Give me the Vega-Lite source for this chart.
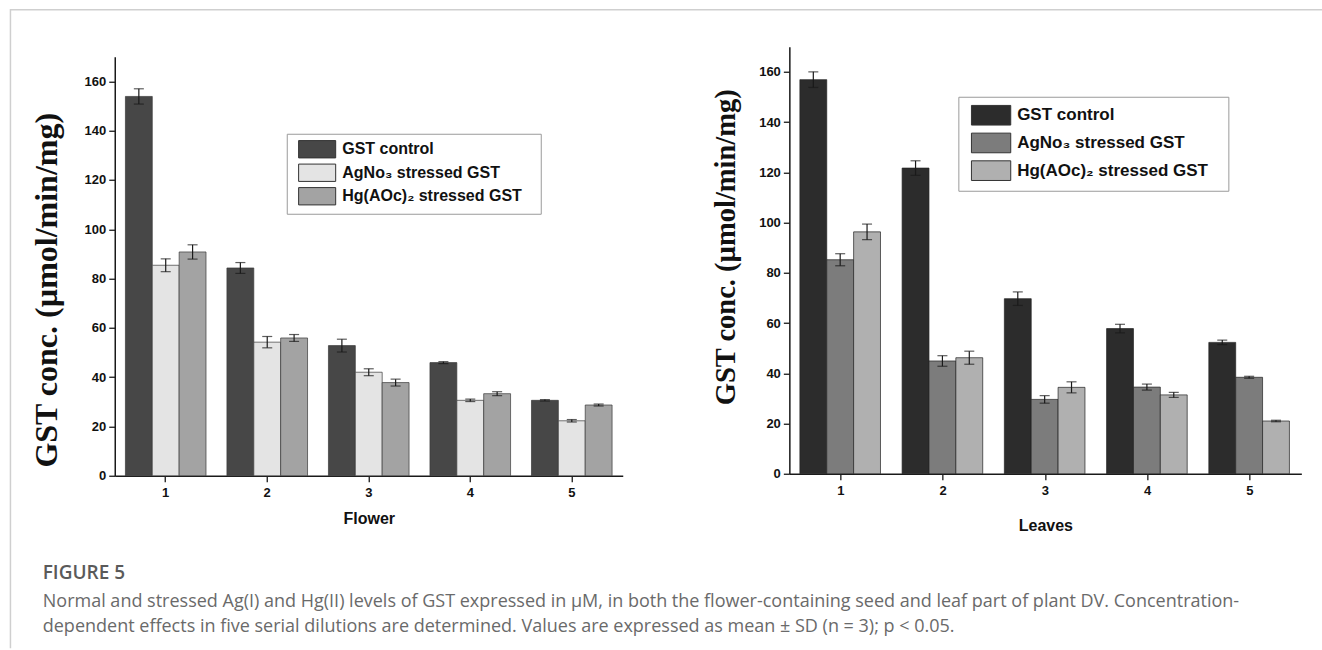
{
  "$schema": "https://vega.github.io/schema/vega-lite/v6.json",
  "background": "white",
  "padding": {"left": 8.75, "top": 8.75, "right": 0, "bottom": 0},
  "bounds": "flush",
  "config": {
    "view": {"stroke": null},
    "axis": {
      "domainColor": "#1a1a1a", "domainWidth": 1.5,
      "tickColor": "#1a1a1a", "tickWidth": 1.3, "tickSize": 6,
      "labelFont": "Liberation Sans", "labelFontWeight": "bold", "labelFontSize": 13, "labelColor": "#111",
      "grid": false, "titleColor": "#111"
    }
  },
  "datasets": {
    "flower": [
      {"dilution": "1", "series": "GST control", "mean": 153.9, "lo": 150.8, "hi": 157.0},
      {"dilution": "1", "series": "AgNo₃ stressed GST", "mean": 85.4, "lo": 82.8, "hi": 88.0},
      {"dilution": "1", "series": "Hg(AOc)₂ stressed GST", "mean": 90.8, "lo": 87.9, "hi": 93.7},
      {"dilution": "2", "series": "GST control", "mean": 84.3, "lo": 82.1, "hi": 86.5},
      {"dilution": "2", "series": "AgNo₃ stressed GST", "mean": 54.2, "lo": 51.9, "hi": 56.5},
      {"dilution": "2", "series": "Hg(AOc)₂ stressed GST", "mean": 55.9, "lo": 54.5, "hi": 57.3},
      {"dilution": "3", "series": "GST control", "mean": 52.8, "lo": 50.2, "hi": 55.4},
      {"dilution": "3", "series": "AgNo₃ stressed GST", "mean": 42.0, "lo": 40.6, "hi": 43.4},
      {"dilution": "3", "series": "Hg(AOc)₂ stressed GST", "mean": 37.8, "lo": 36.4, "hi": 39.2},
      {"dilution": "4", "series": "GST control", "mean": 45.9, "lo": 45.5, "hi": 46.3},
      {"dilution": "4", "series": "AgNo₃ stressed GST", "mean": 30.6, "lo": 30.1, "hi": 31.1},
      {"dilution": "4", "series": "Hg(AOc)₂ stressed GST", "mean": 33.3, "lo": 32.5, "hi": 34.1},
      {"dilution": "5", "series": "GST control", "mean": 30.6, "lo": 30.3, "hi": 30.9},
      {"dilution": "5", "series": "AgNo₃ stressed GST", "mean": 22.3, "lo": 21.8, "hi": 22.8},
      {"dilution": "5", "series": "Hg(AOc)₂ stressed GST", "mean": 28.7, "lo": 28.3, "hi": 29.1}
    ],
    "leaves": [
      {"dilution": "1", "series": "GST control", "mean": 156.9, "lo": 153.8, "hi": 160.0},
      {"dilution": "1", "series": "AgNo₃ stressed GST", "mean": 85.2, "lo": 82.8, "hi": 87.6},
      {"dilution": "1", "series": "Hg(AOc)₂ stressed GST", "mean": 96.3, "lo": 93.2, "hi": 99.4},
      {"dilution": "2", "series": "GST control", "mean": 121.7, "lo": 118.8, "hi": 124.6},
      {"dilution": "2", "series": "AgNo₃ stressed GST", "mean": 44.9, "lo": 42.8, "hi": 47.0},
      {"dilution": "2", "series": "Hg(AOc)₂ stressed GST", "mean": 46.2, "lo": 43.6, "hi": 48.8},
      {"dilution": "3", "series": "GST control", "mean": 69.7, "lo": 67.0, "hi": 72.4},
      {"dilution": "3", "series": "AgNo₃ stressed GST", "mean": 29.6, "lo": 28.1, "hi": 31.1},
      {"dilution": "3", "series": "Hg(AOc)₂ stressed GST", "mean": 34.4, "lo": 32.2, "hi": 36.6},
      {"dilution": "4", "series": "GST control", "mean": 57.8, "lo": 56.1, "hi": 59.5},
      {"dilution": "4", "series": "AgNo₃ stressed GST", "mean": 34.5, "lo": 33.3, "hi": 35.7},
      {"dilution": "4", "series": "Hg(AOc)₂ stressed GST", "mean": 31.4, "lo": 30.4, "hi": 32.4},
      {"dilution": "5", "series": "GST control", "mean": 52.3, "lo": 51.4, "hi": 53.2},
      {"dilution": "5", "series": "AgNo₃ stressed GST", "mean": 38.4, "lo": 38.0, "hi": 38.8},
      {"dilution": "5", "series": "Hg(AOc)₂ stressed GST", "mean": 21.0, "lo": 20.7, "hi": 21.3}
    ]
  },
  "title": {
    "text": "FIGURE 5",
    "subtitle": [
      "Normal and stressed Ag(I) and Hg(II) levels of GST expressed in μM, in both the flower-containing seed and leaf part of plant DV. Concentration-",
      "dependent effects in five serial dilutions are determined. Values are expressed as mean ± SD (n = 3); p < 0.05."
    ],
    "orient": "bottom", "anchor": "start", "frame": "group", "offset": -122, "dx": -72,
    "font": "Open Sans", "fontSize": 19, "fontWeight": 600, "color": "#5a5a5a",
    "subtitleFont": "Open Sans", "subtitleFontSize": 18, "subtitleColor": "#6a6a6a",
    "subtitleLineHeight": 25, "subtitlePadding": 10
  },
  "spacing": 166.6,
  "resolve": {"scale": {"color": "independent"}, "legend": {"color": "independent"}},
  "hconcat": [
    {
      "width": 508, "height": 429,
      "data": {"name": "flower"},
      "layer": [
        {
          "encoding": {
            "x": {"field": "dilution", "type": "ordinal", "title": "Flower",
              "scale": {"paddingInner": 0.206, "paddingOuter": 0.105},
              "axis": {"labelAngle": 0, "labelPadding": 5, "titleFont": "Liberation Sans", "titleFontWeight": "bold", "titleFontSize": 16, "titlePadding": 11}},
            "xOffset": {"field": "series", "type": "nominal", "scale": {"domain": ["GST control", "AgNo₃ stressed GST", "Hg(AOc)₂ stressed GST"]}}
          },
          "layer": [
            {
              "mark": {"type": "bar", "stroke": "#3a3a3a", "strokeWidth": 0.7},
              "encoding": {
                "y": {"field": "mean", "type": "quantitative", "title": "GST conc. (µmol/min/mg)",
                  "scale": {"domain": [0, 170], "nice": false, "range": [429, 10]},
                  "axis": {"values": [0, 20, 40, 60, 80, 100, 120, 140, 160], "labelPadding": 3,
                    "titleFont": "Liberation Serif", "titleFontWeight": "bold", "titleFontSize": 32, "titlePadding": 21, "titleY": 243}},
                "color": {"field": "series", "type": "nominal",
                  "scale": {"domain": ["GST control", "AgNo₃ stressed GST", "Hg(AOc)₂ stressed GST"], "range": ["#474747", "#e4e4e4", "#a3a3a3"]},
                  "legend": {"orient": "none", "legendX": 172, "legendY": 87, "title": null,
                    "strokeColor": "#9a9a9a", "fillColor": "white", "padding": 6,
                    "labelFont": "Liberation Sans", "labelFontWeight": "bold", "labelFontSize": 16, "labelColor": "#111", "labelLimit": 400,
                    "labelExpr": "datum.label + '\u2800'",
                    "symbolType": "M-0.42,-1H3.86V1H-0.42Z", "symbolSize": 300, "symbolStrokeColor": "#333", "symbolStrokeWidth": 1,
                    "labelOffset": 30.5, "rowPadding": 0.5}}
              }
            },
            {
              "mark": {"type": "rule", "color": "#1a1a1a", "strokeWidth": 1.2},
              "encoding": {"y": {"field": "lo", "type": "quantitative"}, "y2": {"field": "hi"}}
            },
            {
              "mark": {"type": "tick", "color": "#1a1a1a", "size": 10, "thickness": 1.2},
              "encoding": {"y": {"field": "lo", "type": "quantitative"}}
            },
            {
              "mark": {"type": "tick", "color": "#1a1a1a", "size": 10, "thickness": 1.2},
              "encoding": {"y": {"field": "hi", "type": "quantitative"}}
            }
          ]
        },
        {
          "mark": {"type": "point", "opacity": 0, "size": 0},
          "encoding": {
            "x": {"datum": 0, "type": "quantitative",
              "scale": {"domain": [0, 1], "range": [-105.3, 1207.7], "nice": false, "zero": false},
              "axis": {"orient": "top", "offset": 37.5, "domainColor": "#cfcfcf", "domainWidth": 1.5, "ticks": false, "labels": false, "title": null, "grid": false}},
            "y": {"datum": 0, "type": "quantitative",
              "scale": {"domain": [0, 1], "range": [601, -38], "nice": false, "zero": false},
              "axis": {"orient": "left", "offset": 104.8, "domainColor": "#cfcfcf", "domainWidth": 1.5, "ticks": false, "labels": false, "title": null, "grid": false}}
          }
        }
      ],
      "resolve": {"scale": {"x": "independent", "y": "independent"}, "axis": {"x": "independent", "y": "independent"}}
    },
    {
      "width": 512, "height": 427,
      "data": {"name": "leaves"},
      "encoding": {
        "x": {"field": "dilution", "type": "ordinal", "title": "Leaves",
          "scale": {"paddingInner": 0.198, "paddingOuter": 0.103},
          "axis": {"labelAngle": 0, "labelPadding": 5, "titleFont": "Liberation Sans", "titleFontWeight": "bold", "titleFontSize": 16, "titlePadding": 20}},
        "xOffset": {"field": "series", "type": "nominal", "scale": {"domain": ["GST control", "AgNo₃ stressed GST", "Hg(AOc)₂ stressed GST"]}}
      },
      "layer": [
        {
          "mark": {"type": "bar", "stroke": "#222222", "strokeWidth": 0.7},
          "encoding": {
            "y": {"field": "mean", "type": "quantitative", "title": "GST conc. (µmol/min/mg)",
              "scale": {"domain": [0, 170], "nice": false},
              "axis": {"values": [0, 20, 40, 60, 80, 100, 120, 140, 160], "labelPadding": 3,
                "titleFont": "Liberation Serif", "titleFontWeight": "bold", "titleFontSize": 28.5, "titlePadding": 18, "titleY": 200}},
            "color": {"field": "series", "type": "nominal",
              "scale": {"domain": ["GST control", "AgNo₃ stressed GST", "Hg(AOc)₂ stressed GST"], "range": ["#2c2c2c", "#7c7c7c", "#b0b0b0"]},
              "legend": {"orient": "none", "legendX": 169, "legendY": 50, "title": null,
                "strokeColor": "#9a9a9a", "fillColor": "white", "padding": 8,
                "labelFont": "Liberation Sans", "labelFontWeight": "bold", "labelFontSize": 17, "labelColor": "#111", "labelLimit": 400,
                "labelExpr": "datum.label + '\u2800'",
                "symbolType": "M-0.55,-1H3.45V1H-0.55Z", "symbolSize": 386, "symbolStrokeColor": "#333", "symbolStrokeWidth": 1,
                "labelOffset": 29.8, "rowPadding": 2.7}}
          }
        },
        {
          "mark": {"type": "rule", "color": "#1a1a1a", "strokeWidth": 1.2},
          "encoding": {"y": {"field": "lo", "type": "quantitative"}, "y2": {"field": "hi"}}
        },
        {
          "mark": {"type": "tick", "color": "#1a1a1a", "size": 10, "thickness": 1.2},
          "encoding": {"y": {"field": "lo", "type": "quantitative"}}
        },
        {
          "mark": {"type": "tick", "color": "#1a1a1a", "size": 10, "thickness": 1.2},
          "encoding": {"y": {"field": "hi", "type": "quantitative"}}
        }
      ]
    }
  ]
}
